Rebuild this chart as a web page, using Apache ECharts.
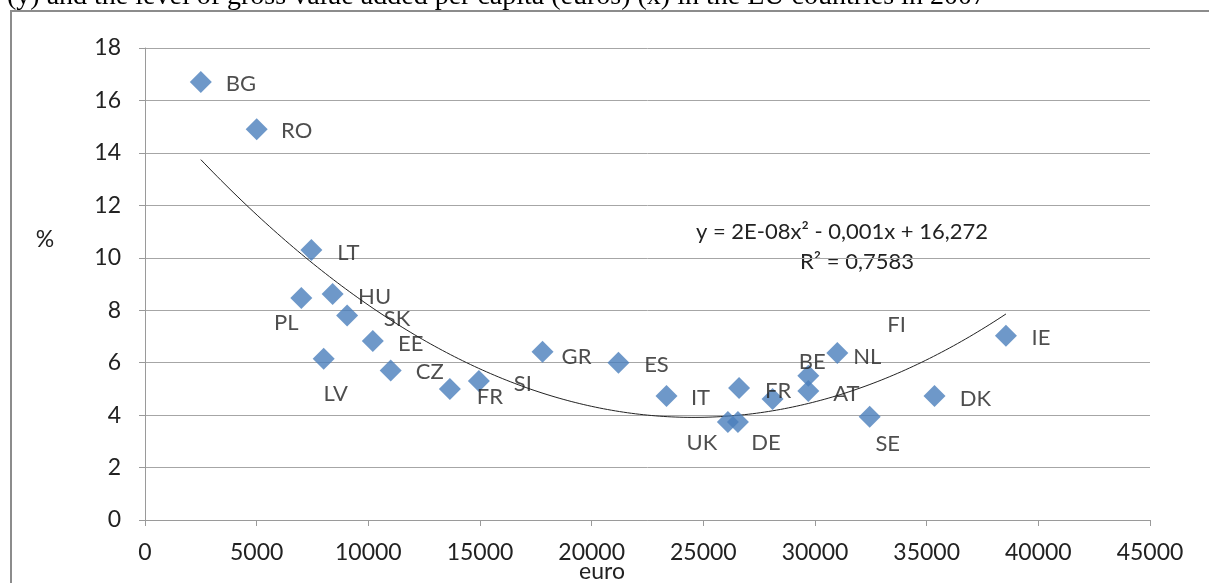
<!DOCTYPE html>
<html>
<head>
<meta charset="utf-8">
<script src="https://cdn.jsdelivr.net/npm/echarts@6/dist/echarts.min.js"></script>
<style>
html,body{margin:0;padding:0;background:#fff;}
#chart{width:1209px;height:583px;}
</style>
</head>
<body>
<div id="chart"></div>
<script>
// ---- data ----
const countries = ['BG','RO','LT','PL','HU','SK','EE','LV','CZ','FR','SI','GR','ES','IT','FR','UK','DE','FI','BE','AT','NL','SE','DK','IE'];
const gvaPerCapita = [2500,5000,7450,7000,8400,9050,10200,8000,11000,13650,14950,17800,21200,23350,26600,26100,26550,28100,29700,29700,31000,32450,35350,38550];
const percentValues = [16.70,14.90,10.30,8.47,8.62,7.80,6.83,6.15,5.70,5.00,5.30,6.42,6.00,4.73,5.03,3.74,3.74,4.61,5.50,4.92,6.37,3.94,4.73,7.03];
const xTicks = {min:0, max:45000, interval:5000};
const yTicks = {min:0, max:18, interval:2};
const equationText = 'y = 2E-08x\u00B2 - 0,001x + 16,272';
const r2Text = 'R\u00B2 = 0,7583';
const captionText = '(y) and the level of gross value added per capita (euros) (x) in the EU countries in 2007';

// label offsets (layout only, px relative to marker centre)
const labelOffsets = [[40,2],[40,2],[37,3],[-15,25],[42,3],[50,3],[38,3],[12,35],[39,1],[40,8],[44,3],[34,5],[38,2],[34,2],[39,3],[-26,21],[28,21],[124,-74],[4,-14],[38,3],[30,4],[18,27],[41,3],[35,2]];

// ---- least-squares quadratic trend (as Excel computes it) ----
function quadFit(xs, ys){
  let n=xs.length, s=[0,0,0,0,0], t=[0,0,0];
  for(let i=0;i<n;i++){
    let x=xs[i]/1000, y=ys[i];
    s[0]+=1; s[1]+=x; s[2]+=x*x; s[3]+=x*x*x; s[4]+=x*x*x*x;
    t[0]+=y; t[1]+=x*y; t[2]+=x*x*y;
  }
  let A=[[s[0],s[1],s[2],t[0]],[s[1],s[2],s[3],t[1]],[s[2],s[3],s[4],t[2]]];
  for(let i=0;i<3;i++){
    let p=A[i][i];
    for(let j=i;j<4;j++) A[i][j]/=p;
    for(let k=0;k<3;k++){ if(k!==i){ let f=A[k][i]; for(let j=i;j<4;j++) A[k][j]-=f*A[i][j]; } }
  }
  const c=A[0][3], b=A[1][3], a=A[2][3];
  return x=>{const u=x/1000; return a*u*u+b*u+c;};
}
const f = quadFit(gvaPerCapita, percentValues);
const xMin = Math.min(...gvaPerCapita), xMax = Math.max(...gvaPerCapita);
const trend = [];
for(let i=0;i<=200;i++){ const x=xMin+(xMax-xMin)*i/200; trend.push([x,f(x)]); }

const FONT = 'Lato, "Open Sans", sans-serif';
const SYM = 22;
const scatterData = countries.map((c,i)=>({
  value:[gvaPerCapita[i], percentValues[i]],
  name:c,
  label:{position:[SYM/2 + labelOffsets[i][0], SYM/2 + labelOffsets[i][1]]}
}));

const chart = echarts.init(document.getElementById('chart'), null, {renderer:'canvas'});
chart.setOption({
  animation:false,
  backgroundColor:'#fff',
  grid:{left:145, right:59, top:48, bottom:63, containLabel:false},
  xAxis:{
    type:'value', min:xTicks.min, max:xTicks.max, interval:xTicks.interval,
    axisLine:{show:true, lineStyle:{color:'#9a9a9a', width:1}},
    axisTick:{show:true, inside:false, length:6, lineStyle:{color:'#9a9a9a'}},
    splitLine:{show:false},
    axisLabel:{color:'#222', fontFamily:FONT, fontSize:23, margin:21, formatter:v=>String(v)}
  },
  yAxis:{
    type:'value', min:yTicks.min, max:yTicks.max, interval:yTicks.interval,
    axisLine:{show:true, lineStyle:{color:'#9a9a9a', width:1}},
    axisTick:{show:true, inside:false, length:6, lineStyle:{color:'#9a9a9a'}},
    splitLine:{show:true, lineStyle:{color:'#a6a6a6', width:1}},
    axisLabel:{color:'#222', fontFamily:FONT, fontSize:23, margin:24, formatter:v=>String(v)}
  },
  series:[
    {
      type:'line', data:trend, showSymbol:false, symbol:'none', smooth:false,
      lineStyle:{color:'#222', width:1}, z:3, silent:true
    },
    {
      type:'scatter', data:scatterData, symbol:'diamond', symbolSize:SYM,
      itemStyle:{color:'#4a7ebb'}, z:4,
      label:{show:true, formatter:p=>p.name, color:'#222',
        fontFamily:FONT, fontSize:22, align:'center', verticalAlign:'middle'},
      labelLayout:{hideOverlap:false}
    }
  ],
  graphic:[
    {type:'rect', shape:{x:11, y:11, width:1400, height:800}, style:{fill:'none', stroke:'#8c8c8c', lineWidth:2}, z:0},
    {type:'text', x:7, y:-3, style:{text:captionText, fill:'#000', font:'28px "Liberation Serif", serif', verticalAlign:'middle'}},
    {type:'text', x:45, y:240, style:{text:'%', fill:'#222', font:'23px ' + FONT, align:'center', verticalAlign:'middle'}},
    {type:'text', x:602, y:572, style:{text:'euro', fill:'#222', font:'23px ' + FONT, align:'center', verticalAlign:'middle'}},
    {type:'text', x:842, y:232, style:{text:equationText, fill:'#222', font:'22px ' + FONT, align:'center', verticalAlign:'middle'}},
    {type:'text', x:857, y:262, style:{text:r2Text, fill:'#222', font:'22px ' + FONT, align:'center', verticalAlign:'middle'}}
  ]
});
</script>
</body>
</html>
